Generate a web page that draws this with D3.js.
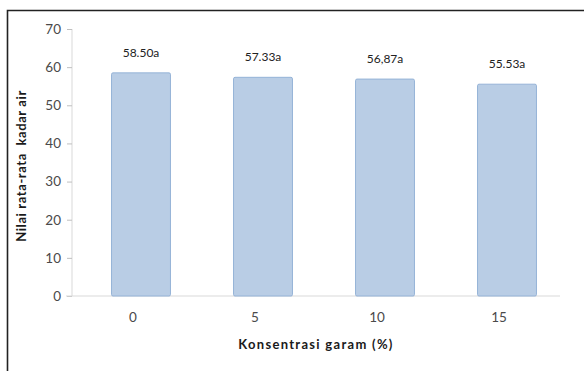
<!DOCTYPE html>
<html><head><meta charset="utf-8">
<script src="https://cdn.jsdelivr.net/npm/d3@7/dist/d3.min.js"></script>
<style>body{margin:0;background:#fff}svg{display:block}</style>
</head><body>
<script>
const categories = ["0", "5", "10", "15"];
const values = [58.50, 57.33, 56.87, 55.53];
const barLabels = ["58.50a", "57.33a", "56,87a", "55.53a"];
const yTicks = [0, 10, 20, 30, 40, 50, 60, 70];

const W = 584, H = 371;
const svg = d3.select("body").append("svg").attr("width", W).attr("height", H);
const font = "Lato, 'Open Sans', sans-serif";

// outer frame
svg.append("path").attr("d", `M7.5,${H+5} L7.5,10.5 L${W+5},10.5`)
  .attr("fill", "none").attr("stroke", "#222").attr("stroke-width", 1.6);

const x = d3.scaleBand().domain(categories).range([72, 560]).paddingInner(0.517).paddingOuter(0.2585);
const y = d3.scaleLinear().domain([0, 70]).range([296, 29]);
const barShift = 8; // bars sit slightly right of the category labels in the reference

// y axis
const ya = svg.append("g").attr("transform", "translate(72,0)")
  .call(d3.axisLeft(y).tickValues(yTicks).tickSize(5).tickPadding(6));
ya.select(".domain").attr("stroke", "#d9d9d9").attr("d", `M0,${y(70)}V${y(0)}`);
ya.selectAll(".tick line").attr("stroke", "#bfbfbf");
ya.selectAll("text").attr("font-family", font).attr("font-size", 13.5).attr("fill", "#4a4a4a");

// x axis
const xa = svg.append("g").attr("transform", `translate(0,${y(0)})`)
  .call(d3.axisBottom(x).tickSize(0).tickPadding(16));
xa.select(".domain").attr("stroke", "#d9d9d9").attr("d", `M66,0H560`);
xa.selectAll("text").attr("font-family", font).attr("font-size", 13.5).attr("fill", "#4a4a4a");

// bars
svg.selectAll("rect.bar").data(values).join("rect").attr("class", "bar")
  .attr("x", (d, i) => x(categories[i]) + barShift)
  .attr("width", x.bandwidth())
  .attr("y", d => y(d))
  .attr("height", d => y(0) - y(d))
  .attr("rx", 1.5)
  .attr("fill", "#b9cde5").attr("stroke", "#95b3d7").attr("stroke-width", 1);

// value labels
svg.selectAll("text.lbl").data(values).join("text").attr("class", "lbl")
  .attr("x", (d, i) => x(categories[i]) + barShift + x.bandwidth() / 2)
  .attr("y", d => y(d) - 16)
  .attr("text-anchor", "middle")
  .attr("font-family", font).attr("font-size", 12).attr("fill", "#222")
  .text((d, i) => barLabels[i]);

// axis titles
svg.append("text").attr("x", 316).attr("y", 349).attr("text-anchor", "middle")
  .attr("font-family", font).attr("font-weight", "bold").attr("font-size", 13).attr("letter-spacing", 1.3).attr("fill", "#1a1a1a")
  .text("Konsentrasi garam (%)");
svg.append("text").attr("transform", `translate(26,166) rotate(-90)`).attr("text-anchor", "middle")
  .attr("font-family", font).attr("font-weight", "bold").attr("font-size", 13).attr("letter-spacing", 0.6).attr("fill", "#1a1a1a")
  .attr("xml:space", "preserve")
  .text("Nilai rata-rata  kadar air");
</script>
</body></html>
